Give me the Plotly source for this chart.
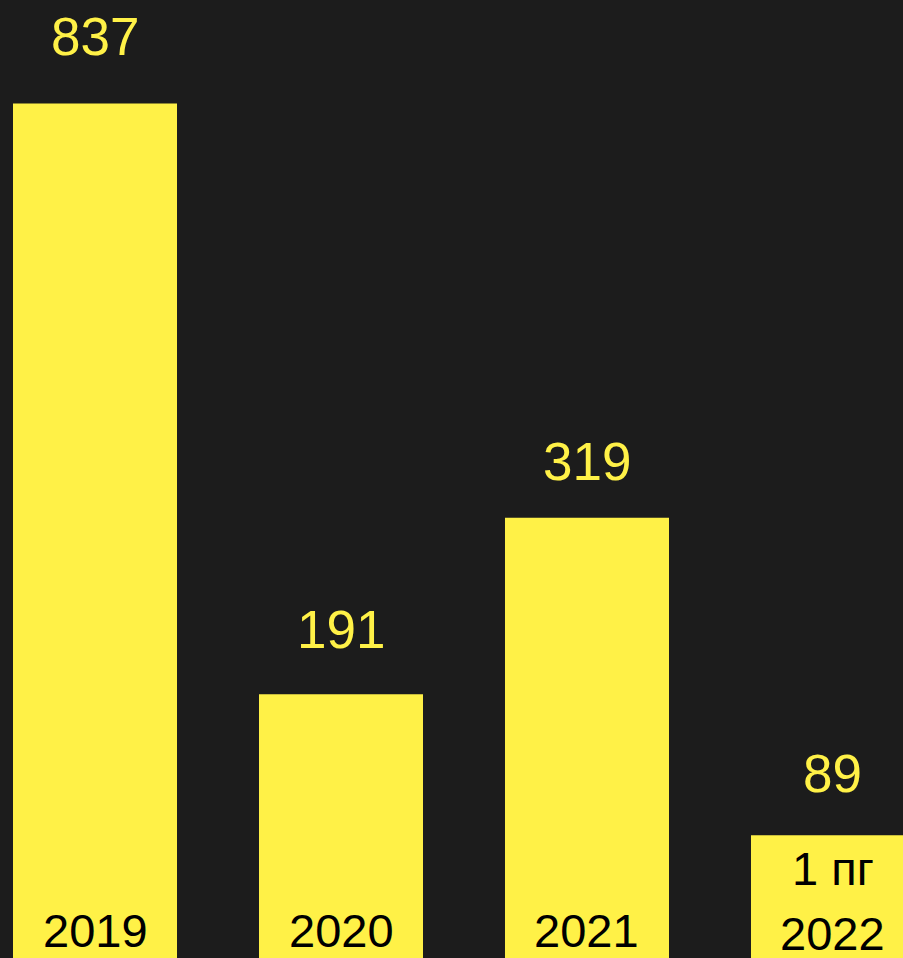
import plotly.graph_objects as go

# data
years = ["2019", "2020", "2021", "2022"]
period_note = ["", "", "", "1 пг"]
values = [837, 191, 319, 89]

# the 2019 bar is drawn shortened in the original (broken bar)
cap = 619
shown = [min(v, cap) for v in values]

YELLOW = "#FFF147"
BG = "#1C1C1C"
FONT = "Liberation Sans, Arial, sans-serif"

label_gap = [67, 65, 56, 62]

fig = go.Figure(
    go.Bar(
        x=list(range(len(years))),
        y=shown,
        marker=dict(color=YELLOW, line=dict(width=0)),
        hoverinfo="skip",
    )
)

for i, (yr, note, v, s) in enumerate(zip(years, period_note, values, shown)):
    fig.add_annotation(
        x=i, y=s, text=str(v), showarrow=False,
        yanchor="middle", yshift=label_gap[i],
        font=dict(family=FONT, size=53, color=YELLOW),
    )
    if note:
        fig.add_annotation(
            x=i, y=0, text=note, showarrow=False,
            yanchor="middle", yshift=90,
            font=dict(family=FONT, size=47, color="black"),
        )
        fig.add_annotation(
            x=i, y=0, text=yr, showarrow=False,
            yanchor="middle", yshift=25,
            font=dict(family=FONT, size=47, color="black"),
        )
    else:
        fig.add_annotation(
            x=i, y=0, text=yr, showarrow=False,
            yanchor="middle", yshift=28,
            font=dict(family=FONT, size=47, color="black"),
        )

fig.update_layout(
    width=903,
    height=958,
    margin=dict(l=0, r=0, t=0, b=0),
    paper_bgcolor=BG,
    plot_bgcolor=BG,
    bargap=0.3333,
    showlegend=False,
    xaxis=dict(range=[-0.3862, 3.2846], visible=False, fixedrange=True),
    yaxis=dict(range=[0, 694], visible=False, fixedrange=True),
)

fig.write_html(
    "out.html",
    config={"displayModeBar": False},
    post_script="document.body.style.margin='0';document.body.style.overflow='hidden';",
)
